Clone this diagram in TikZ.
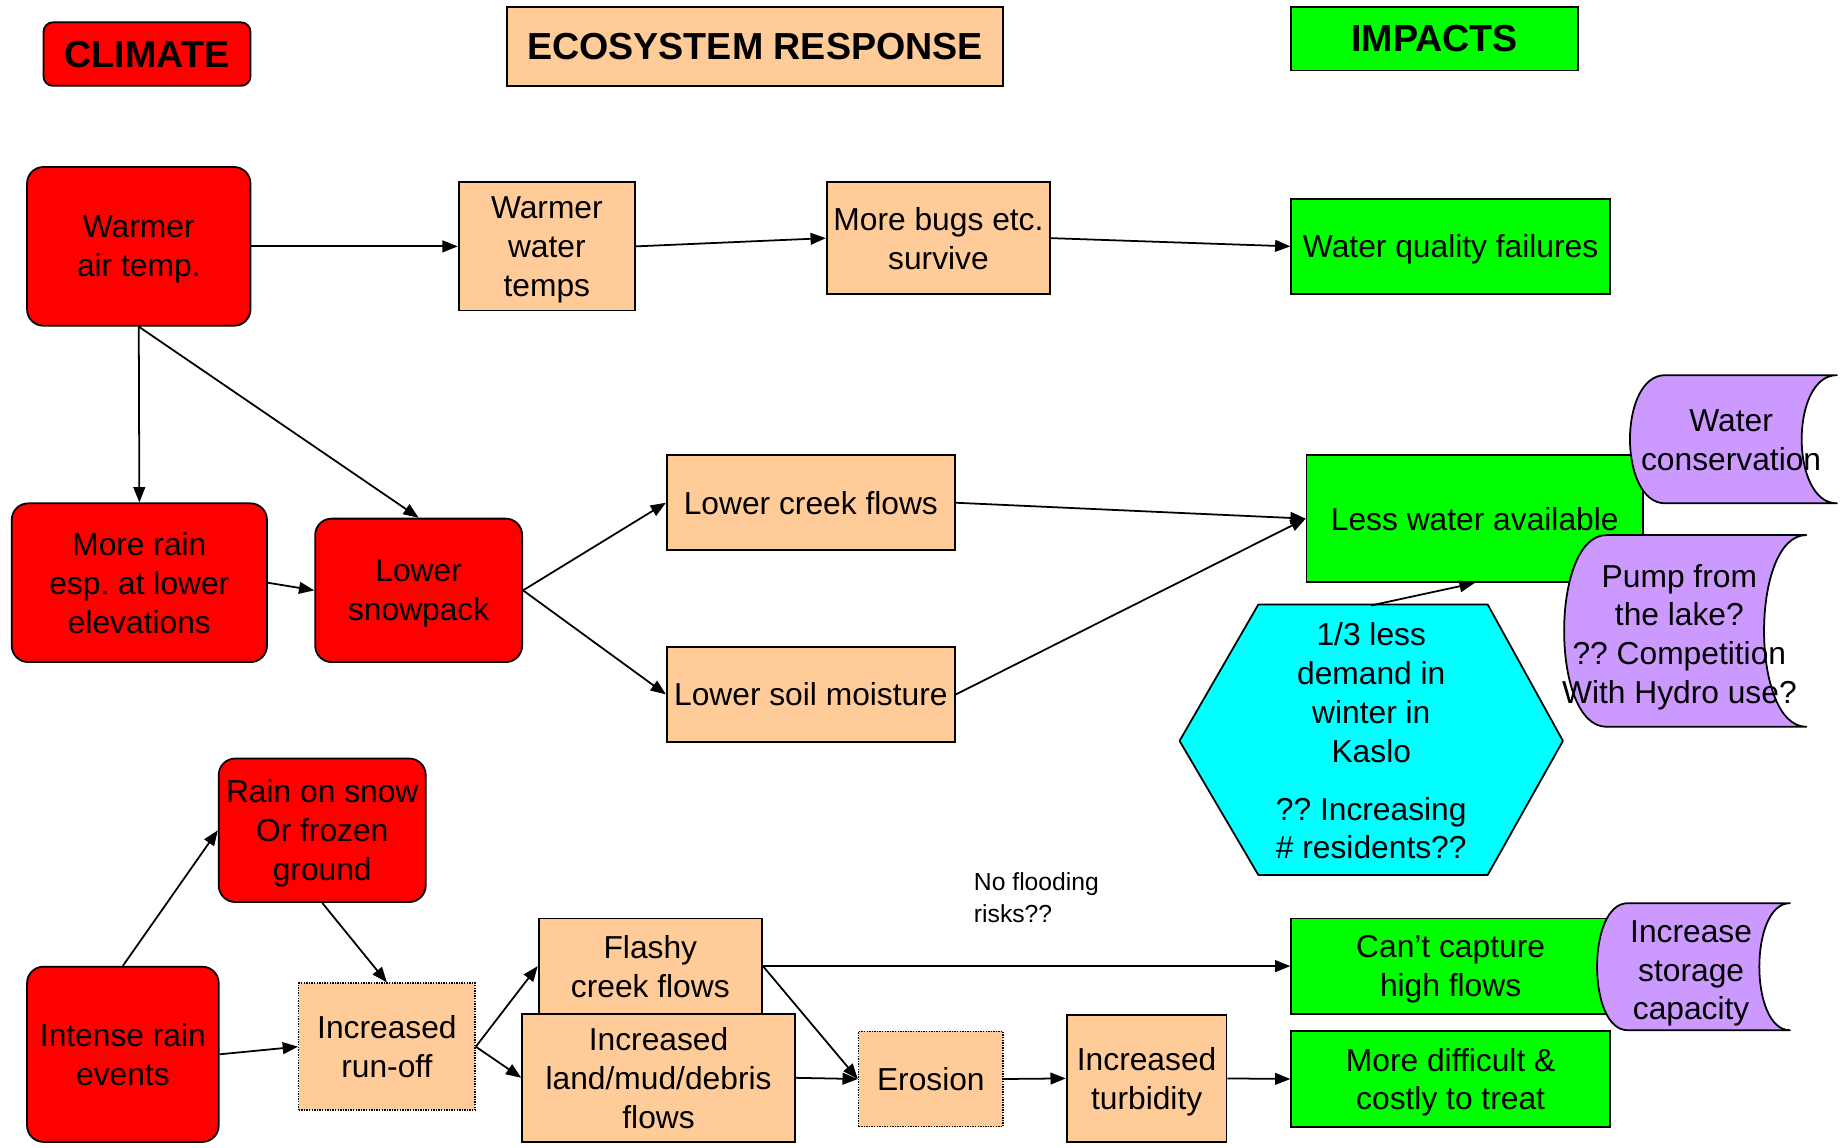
\documentclass[tikz,border=0pt]{standalone}
\usepackage{fontspec}
\setmainfont{Liberation Sans}
\usetikzlibrary{arrows.meta}
\definecolor{cred}{HTML}{FF0000}
\definecolor{peach}{HTML}{FFCC99}
\definecolor{cgreen}{HTML}{00FF00}
\definecolor{purp}{HTML}{CC99FF}
\definecolor{cyanc}{HTML}{00FFFF}
\newcommand\mybox[7]{\node[#2, minimum width={#5-#3}, minimum height={#6-#4}] (#1) at ({(#3+#5)/2},{(#4+#6)/2}) {#7};}
\newcommand\mystored[5]{\draw[fill=purp, line width=1.5pt, line join=round] ({#1+#5},#2) -- (#3,#2) .. controls ({#3-4/3*#5},#2) and ({#3-4/3*#5},#4) .. (#3,#4) -- ({#1+#5},#4) .. controls ({#1-#5/3},#4) and ({#1-#5/3},#2) .. ({#1+#5},#2) -- cycle;}
\tikzset{
  base/.style={draw=black, line width=1.5pt, inner sep=0pt, align=center, text depth=0pt, font=\fontsize{27}{33}\selectfont\frenchspacing},
  redbox/.style={base, fill=cred, rounded corners=14pt},
  peachbox/.style={base, fill=peach},
  greenbox/.style={base, fill=cgreen},
  dotbox/.style={base, fill=peach, line width=1.2pt, densely dotted},
  head/.style={font=\fontsize{32}{38}\selectfont\bfseries},
  txt/.style={inner sep=0pt, align=center, text depth=0pt, font=\fontsize{27}{33}\selectfont\frenchspacing},
  arr/.style={-{Triangle[length=13pt,width=10pt]}, line width=1.5pt},
}
\begin{document}
\frenchspacing
\begin{tikzpicture}[x=1pt,y=-1pt]
\useasboundingbox (0,0) rectangle (1568,976);
% headers
\mybox{climate}{redbox, head, rounded corners=8pt}{37}{19}{213}{73}{CLIMATE}
\mybox{eco}{peachbox, head}{431}{6}{853}{73}{ECOSYSTEM RESPONSE}
\mybox{impacts}{greenbox, head}{1098}{6}{1342}{60}{IMPACTS}
% row 1
\mybox{wair}{redbox}{23}{142}{213}{277}{Warmer\\air temp.}
\mybox{wwater}{peachbox}{390}{155}{540}{264}{Warmer\\water\\temps}
\mybox{bugs}{peachbox}{703}{155}{893}{250}{More bugs etc.\\survive}
\mybox{wq}{greenbox}{1098}{169}{1369}{250}{Water quality failures}
% row 2
\mybox{morerain}{redbox}{10}{428}{227}{563}{More rain\\esp. at lower\\elevations}
\mybox{snow}{redbox}{268}{441}{444}{563}{Lower\\snowpack}
\mybox{creek}{peachbox}{567}{387}{812}{468}{Lower creek flows}
\mybox{soil}{peachbox}{567}{550}{812}{631}{Lower soil moisture}
\mybox{less}{greenbox}{1111}{387}{1397}{495}{Less water available}
\mystored{1386}{319}{1562}{428}{30}
\node[txt] (wcons) at (1472,374) {Water\\conservation};
\draw[fill=cyanc, line width=1.5pt, line join=round] (1070,514) -- (1265,514) -- (1329,630) -- (1265,744) -- (1070,744) -- (1003,630) -- cycle;
\node[txt, minimum width=326pt, minimum height=230pt] (hex) at (1166,630) {1/3 less\\demand in\\winter in\\Kaslo\\[16pt]?? Increasing\\\# residents??};
\mystored{1330}{455}{1536}{618}{36}
\node[txt] (pump) at (1428,539) {Pump from\\the lake?\\?? Competition\\With Hydro use?};
% row 3
\mybox{ros}{redbox}{186}{645}{362}{767}{Rain on snow\\Or frozen\\ground}
\mybox{intense}{redbox}{23}{822}{186}{971}{Intense rain\\events}
\mybox{runoff}{dotbox}{254}{836}{404}{944}{Increased\\run-off}
\mybox{flashy}{peachbox}{458}{781}{648}{862}{Flashy\\creek flows}
\mybox{land}{peachbox}{444}{862}{676}{971}{Increased\\land/mud/debris\\flows}
\mybox{erosion}{dotbox}{730}{877}{853}{958}{Erosion}
\mybox{turb}{peachbox}{907}{863}{1043}{971}{Increased\\turbidity}
\mybox{cant}{greenbox}{1098}{781}{1369}{862}{Can’t capture\\high flows}
\mybox{treat}{greenbox}{1098}{877}{1369}{958}{More difficult \&\\costly to treat}
\mystored{1358}{768}{1522}{876}{26}
\node[txt] (storage) at (1438,825) {Increase\\storage\\capacity};
\node[inner sep=0pt, align=left, anchor=west, font=\fontsize{21}{27}\selectfont] (noflood) at (828,763) {No flooding\\risks??};
% connectors
\draw[arr] (wair.east) -- (wwater.west);
\draw[arr] (wwater.east) -- (bugs.west);
\draw[arr] (bugs.east) -- (wq.west);
\draw[arr] (wair.south) -- (morerain.north);
\draw[arr] (wair.south) -- (snow.north);
\draw[arr] (morerain.east) -- (snow.west);
\draw[arr] (snow.east) -- (creek.west);
\draw[arr] (snow.east) -- (soil.west);
\draw[arr] (creek.east) -- (less.west);
\draw[arr] (soil.east) -- (less.west);
\draw[arr] (hex.north) -- (less.south);
\draw[arr] (intense.north) -- (ros.west);
\draw[arr] (ros.south) -- (runoff.north);
\draw[arr] (intense.east) -- (runoff.west);
\draw[arr] (runoff.east) -- (flashy.west);
\draw[arr] (runoff.east) -- (land.west);
\draw[arr] (flashy.east) -- (cant.west);
\draw[arr] (flashy.east) -- (erosion.west);
\draw[arr] (land.east) -- (erosion.west);
\draw[arr] (erosion.east) -- (turb.west);
\draw[arr] (turb.east) -- (treat.west);
\end{tikzpicture}
\end{document}
